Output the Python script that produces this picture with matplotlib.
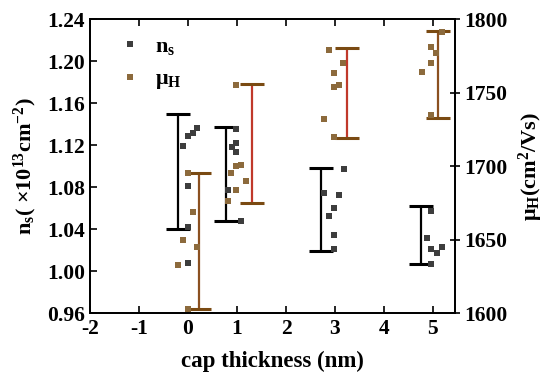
'''
Sheet carrier density and Hall mobility vs cap thickness
'''

# Imports
import matplotlib
matplotlib.use('Agg')
import numpy as np
import matplotlib.pyplot as plt

# Main Vars
# n_s measurements (x10^13 cm^-2)
ns_x = [0.19, 0.10, 0.00, -0.10, 0.00, 0.00, 0.00,
        0.99, 0.99, 0.89, 0.99, 0.81, 1.08,
        3.19, 2.78, 3.09, 2.99, 2.88, 2.99, 2.99,
        4.97, 4.88, 4.97, 5.08, 5.18, 4.97]
ns_y = [1.1365, 1.131, 1.129, 1.119, 1.081, 1.042, 1.008,
        1.135, 1.122, 1.118, 1.113, 1.077, 1.048,
        1.097, 1.074, 1.072, 1.060, 1.052, 1.034, 1.021,
        1.057, 1.031, 1.021, 1.017, 1.023, 1.007]

# mu_H measurements (cm^2/Vs)
mu_x = [0.00, 0.10, 0.19, -0.10, -0.20, 0.00,
        0.99, 0.98, 1.08, 0.88, 0.98, 1.18, 0.81,
        2.88, 3.17, 2.99, 2.99, 3.09, 2.78, 2.99,
        5.18, 4.97, 5.07, 4.97, 4.77, 4.97]
mu_y = [1695, 1668.5, 1645, 1650, 1633, 1603,
        1755, 1700, 1701, 1695, 1684, 1690, 1676,
        1779, 1770, 1763, 1754, 1755, 1732, 1720,
        1791, 1781, 1777, 1770, 1764, 1735]

# range bars
ns_bar_x = [-0.20, 0.77, 2.71, 4.76]
ns_bar_lo = [1.040, 1.0476, 1.019, 1.0067]
ns_bar_hi = [1.1495, 1.137, 1.0984, 1.0622]

mu_bar_x = [0.23, 1.30, 3.24, 5.10]
mu_bar_lo = [1603, 1675, 1719, 1733]
mu_bar_hi = [1695, 1756, 1780, 1792]

xticks = [-2, -1, 0, 1, 2, 3, 4, 5]
ns_ticks = [0.96, 1.00, 1.04, 1.08, 1.12, 1.16, 1.20, 1.24]
mu_ticks = [1600, 1650, 1700, 1750, 1800]

# Style
plt.rcParams['font.family'] = ['Liberation Serif', 'DejaVu Serif']
plt.rcParams['font.weight'] = 'bold'
plt.rcParams['axes.unicode_minus'] = False
plt.rcParams['mathtext.fontset'] = 'custom'
plt.rcParams['mathtext.rm'] = 'Liberation Serif:bold'
plt.rcParams['mathtext.it'] = 'Liberation Serif:bold'
plt.rcParams['mathtext.bf'] = 'Liberation Serif:bold'

C_NS_PT = '#3d3d3d'
C_MU_PT = '#8c6a3c'
C_MU_CAP = '#7a4a12'
C_MU_LINE = ['#8b5020', '#c0392b', '#c0392b', '#8b5020']

# Main Functions
def RangeBars(ax, x, lo, hi, lineColor, capColor):
    lo = np.array(lo)
    hi = np.array(hi)
    c = (lo + hi) / 2
    e = (hi - lo) / 2
    _, caps, bars = ax.errorbar(x, c, yerr=e, fmt='none', ecolor=capColor,
                                elinewidth=1.6, capsize=8.5, capthick=2.2, zorder=2)
    bars[0].set_color(lineColor)
    return caps


fig = plt.figure(figsize=(5.5, 3.9), dpi=100)
ax = fig.add_axes([0.1636, 0.1974, 0.6636, 0.7538])
ax2 = ax.twinx()

RangeBars(ax, ns_bar_x, ns_bar_lo, ns_bar_hi, 'black', 'black')
h1, = ax.plot(ns_x, ns_y, 's', color=C_NS_PT, ms=3.8, mew=0, zorder=3)

RangeBars(ax2, mu_bar_x, mu_bar_lo, mu_bar_hi, C_MU_LINE, C_MU_CAP)
h2, = ax2.plot(mu_x, mu_y, 's', color=C_MU_PT, ms=3.8, mew=0, zorder=3)

ax.set_xlim(-2, 5.45)
ax.set_ylim(0.96, 1.24)
ax2.set_ylim(1600, 1800)

ax.set_xticks(xticks)
ax.set_yticks(ns_ticks)
ax.set_yticklabels(['%.2f' % t for t in ns_ticks])
ax2.set_yticks(mu_ticks)

ax.tick_params(axis='both', labelsize=15.5, direction='in', length=5, width=1.2, top=True)
ax.tick_params(axis='x', pad=4)
ax2.tick_params(axis='y', labelsize=15.5, direction='inout', length=7, width=1.2)
for a in (ax, ax2):
    for s in a.spines.values():
        s.set_linewidth(1.3)

ax.set_xlabel('cap thickness (nm)', fontsize=16.5, fontweight='bold', labelpad=9)
ax.set_ylabel('$\\mathregular{n_s}$( ×10$^{\\mathregular{13}}$cm$^{\\mathregular{-2}}$)',
              fontsize=16, fontweight='bold', labelpad=6)
ax2.set_ylabel('μ$_{\\mathregular{H}}$(cm$^{\\mathregular{2}}$/Vs)', fontsize=16,
               fontweight='bold', labelpad=6)

ax.legend([h1, h2], ['n$_{\\mathregular{s}}$', 'μ$_{\\mathregular{H}}$'], loc='upper left',
          bbox_to_anchor=(0.03, 1.01), frameon=False, fontsize=16, labelspacing=0.55,
          handlelength=0.8, handletextpad=0.75, markerscale=1.0)

fig.savefig('out.png', dpi=100)
